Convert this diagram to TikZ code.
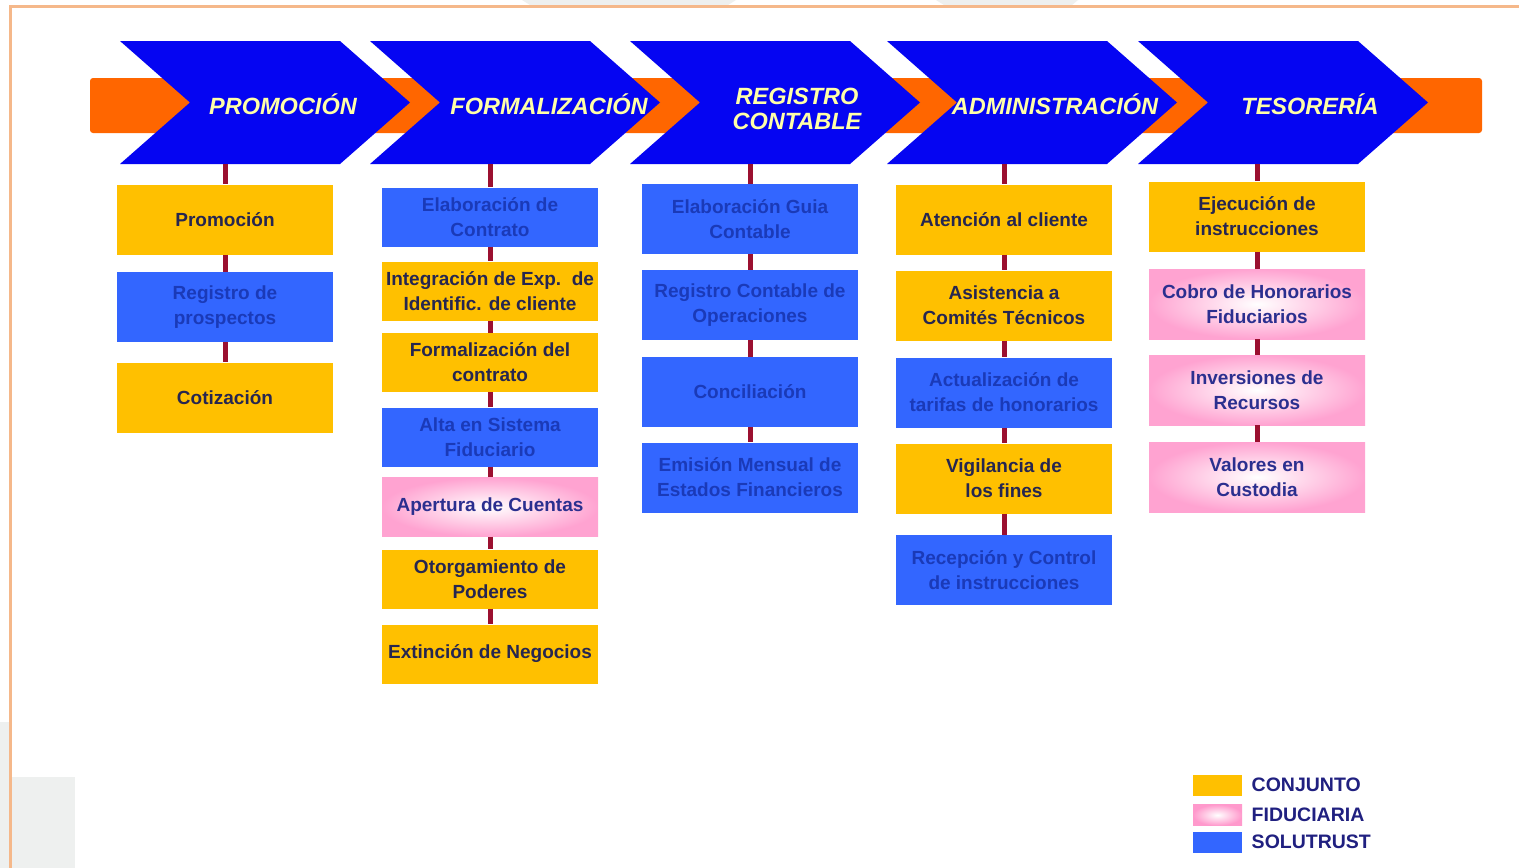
\documentclass[tikz,border=0pt]{standalone}
\usepackage{fontspec}
\setmainfont{Liberation Sans}
\usepackage{tikz}
\usetikzlibrary{positioning}
\definecolor{conj}{HTML}{FFC000}
\definecolor{solu}{HTML}{3366FF}
\definecolor{fidu}{HTML}{FF99CC}
\definecolor{stageblue}{HTML}{0505F2}
\definecolor{bandorange}{HTML}{FF6600}
\definecolor{linkred}{HTML}{9B1030}
\definecolor{edgeorange}{HTML}{F5B88A}
\definecolor{paper}{HTML}{EEF0EF}
\definecolor{conjtext}{HTML}{262650}
\definecolor{solutext}{HTML}{1A3AB8}
\definecolor{fidutext}{HTML}{2B2F8F}
\definecolor{legtext}{HTML}{202080}
\definecolor{stagetext}{HTML}{FFFFA8}
\tikzset{%
  task box/.style={
    rectangle,
    minimum width=216,
    minimum height=70,
    align=center,
    font=\bfseries\fontsize{19}{25}\selectfont
  },
  conjunto/.style={task box, fill=conj, text=conjtext},
  solutrust/.style={task box, fill=solu, text=solutext},
  fiduciaria/.style={task box, inner color=white, outer color=fidu!90!white, text=fidutext},
  stage/.style={fill=stageblue},
  stage label/.style={
    text=stagetext,
    align=center,
    font=\bfseries\itshape\fontsize{23.5}{25}\selectfont
  },
  link/.style={draw=linkred, line width=5pt},
  swatch/.style={minimum width=49, minimum height=21, inner sep=0pt},
  legend text/.style={text=legtext, font=\bfseries\fontsize{19.5}{21}\selectfont},
}

\begin{document}
\begin{tikzpicture}[x=1pt, y=-1pt]
\useasboundingbox (0,0) rectangle (1519,868);
\fill[white] (0,0) rectangle (1519,868);
\fill[paper] (522,0) -- (736,0) -- (728,5) -- (530,5) -- cycle;
\fill[paper] (936,0) -- (1078,0) -- (1072,5) -- (944,5) -- cycle;
\fill[paper] (0,722) rectangle (9,868);
\fill[paper] (11,777) rectangle (75,868);
\draw[edgeorange, line width=3pt] (1519,6) -- (10,6) -- (10,868);
\fill[bandorange, rounded corners=3pt] (90,78) rectangle (1482,133);
    \foreach \L/\tx/\ty/\bx/\name/\txt in {120/283/104/225/promo/PROMOCIÓN, 370/549/104/490/formal/FORMALIZACIÓN,
        630/797/109/750/regis/{REGISTRO\\CONTABLE}, 887/1055/104/1004/admin/ADMINISTRACIÓN, 1138/1310/104/1257/teso/TESORERÍA}
        {\fill[stage] (\L,41) -- ++(220,0) -- ++(70,61.5) -- ++(-70,61.5) -- ++(-220,0) -- ++(70,-61.5) -- cycle;
        \node[stage label] (\name) at (\tx,\ty) {\txt};
        \coordinate (\name-b) at (\bx,164);}
\node[conjunto] (p1) at (225,219.5) {Promoción};
\node[solutrust] (p2) at (225,307) {Registro de\\prospectos};
\node[conjunto] (p3) at (225,397.5) {Cotización};
\node[solutrust, minimum height=59] (f1) at (490,217) {Elaboración de\\Contrato};
\node[conjunto, minimum height=59] (f2) at (490,291) {Integración de Exp.\ \ de\\Identific. de cliente};
\node[conjunto, minimum height=59] (f3) at (490,362.5) {Formalización del\\contrato};
\node[solutrust, minimum height=59] (f4) at (490,437) {Alta en Sistema\\Fiduciario};
\node[fiduciaria, minimum height=59] (f5) at (490,507) {Apertura de Cuentas};
\node[conjunto, minimum height=59] (f6) at (490,579) {Otorgamiento de\\Poderes};
\node[conjunto, minimum height=59] (f7) at (490,654) {Extinción de Negocios};
\node[solutrust] (r1) at (750,219) {Elaboración Guia\\Contable};
\node[solutrust] (r2) at (750,305) {Registro Contable de\\Operaciones};
\node[solutrust] (r3) at (750,392) {Conciliación};
\node[solutrust] (r4) at (750,477.5) {Emisión Mensual de\\Estados Financieros};
\node[conjunto] (a1) at (1004,219.5) {Atención al cliente};
\node[conjunto] (a2) at (1004,305.5) {Asistencia a\\Comités Técnicos};
\node[solutrust] (a3) at (1004,392.5) {Actualización de\\tarifas de honorarios};
\node[conjunto] (a4) at (1004,478.5) {Vigilancia de\\los fines};
\node[solutrust] (a5) at (1004,570) {Recepción y Control\\de instrucciones};
\node[conjunto] (t1) at (1257,216.5) {Ejecución de\\instrucciones};
\node[fiduciaria] (t2) at (1257,304) {Cobro de Honorarios\\Fiduciarios};
\node[fiduciaria] (t3) at (1257,390) {Inversiones de\\Recursos};
\node[fiduciaria] (t4) at (1257,477) {Valores en\\Custodia};
    \foreach \a/\b in {promo-b/p1, p1/p2, p2/p3,
        formal-b/f1, f1/f2, f2/f3, f3/f4, f4/f5, f5/f6, f6/f7,
        regis-b/r1, r1/r2, r2/r3, r3/r4,
        admin-b/a1, a1/a2, a2/a3, a3/a4, a4/a5,
        teso-b/t1, t1/t2, t2/t3, t3/t4}
        \draw[link] (\a) -- (\b);
\node[swatch, fill=conj] (sw-conj) at (1217.5,785) {};
\node[swatch, inner color=white, outer color=fidu] (sw-fidu) at (1217.5,815) {};
\node[swatch, fill=solu] (sw-solu) at (1217.5,842) {};
\node[legend text, right=6pt of sw-conj] (lg-conj) {CONJUNTO};
\node[legend text, right=6pt of sw-fidu] (lg-fidu) {FIDUCIARIA};
\node[legend text, right=6pt of sw-solu] (lg-solu) {SOLUTRUST};
\end{tikzpicture}
\end{document}
